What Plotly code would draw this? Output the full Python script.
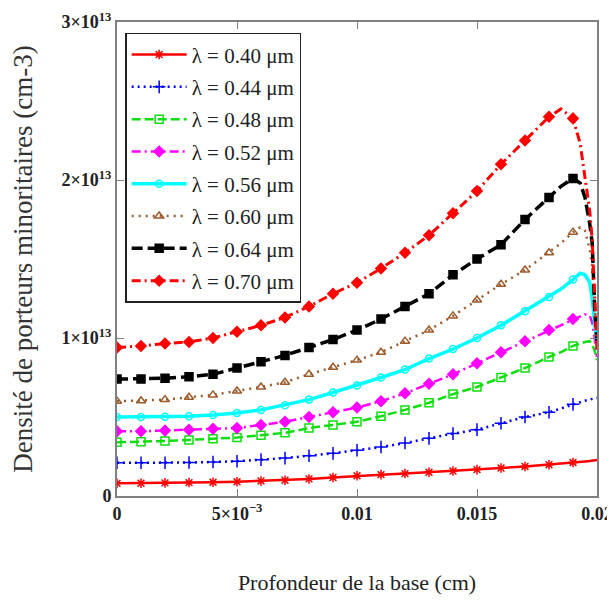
import plotly.graph_objects as go

# Depth in the base (cm)
depth = [0.000, 0.001, 0.002, 0.003, 0.004, 0.005, 0.006, 0.007, 0.008, 0.009,
         0.010, 0.011, 0.012, 0.013, 0.014, 0.015, 0.016, 0.017, 0.018, 0.0185,
         0.019, 0.0193, 0.0195, 0.0197, 0.0198, 0.0199, 0.020]

# Minority carrier density (units of 1e13 cm-3)
n_040 = [0.080, 0.081, 0.083, 0.085, 0.087, 0.090, 0.095, 0.100, 0.108, 0.117,
         0.128, 0.135, 0.142, 0.150, 0.158, 0.167, 0.177, 0.187, 0.198, 0.205,
         0.212, 0.216, 0.219, 0.222, 0.224, 0.226, 0.228]
n_044 = [0.21, 0.21, 0.21, 0.212, 0.215, 0.22, 0.23, 0.24, 0.255, 0.27,
         0.29, 0.31, 0.335, 0.365, 0.395, 0.42, 0.46, 0.50, 0.53, 0.555,
         0.58, 0.595, 0.603, 0.61, 0.615, 0.618, 0.62]
n_048 = [0.34, 0.343, 0.348, 0.355, 0.362, 0.37, 0.385, 0.40, 0.43, 0.45,
         0.47, 0.505, 0.545, 0.59, 0.645, 0.69, 0.75, 0.81, 0.88, 0.91,
         0.95, 0.965, 0.975, 0.98, 0.96, 0.92, 0.86]
n_052 = [0.41, 0.41, 0.415, 0.42, 0.425, 0.43, 0.45, 0.47, 0.50, 0.53,
         0.56, 0.60, 0.65, 0.71, 0.77, 0.84, 0.91, 0.98, 1.05, 1.08,
         1.12, 1.14, 1.15, 1.14, 1.10, 1.00, 0.88]
n_056 = [0.50, 0.50, 0.502, 0.505, 0.513, 0.525, 0.545, 0.575, 0.61, 0.655,
         0.70, 0.75, 0.80, 0.87, 0.93, 1.00, 1.08, 1.17, 1.26, 1.31,
         1.37, 1.41, 1.40, 1.35, 1.25, 1.12, 0.95]
n_060 = [0.60, 0.603, 0.61, 0.625, 0.64, 0.665, 0.69, 0.72, 0.77, 0.815,
         0.86, 0.91, 0.98, 1.05, 1.14, 1.24, 1.34, 1.43, 1.54, 1.60,
         1.67, 1.70, 1.68, 1.56, 1.45, 1.25, 1.00]
n_064 = [0.74, 0.74, 0.745, 0.755, 0.77, 0.81, 0.85, 0.89, 0.94, 0.99,
         1.05, 1.12, 1.20, 1.28, 1.40, 1.50, 1.59, 1.75, 1.89, 1.96,
         2.01, 1.98, 1.89, 1.72, 1.60, 1.20, 0.97]
n_070 = [0.94, 0.95, 0.965, 0.975, 1.00, 1.04, 1.08, 1.13, 1.20, 1.28,
         1.35, 1.44, 1.54, 1.65, 1.79, 1.93, 2.10, 2.25, 2.40, 2.45,
         2.39, 2.23, 2.02, 1.80, 1.62, 1.25, 0.92]

labels = ["λ = 0.40 μm", "λ = 0.44 μm", "λ = 0.48 μm", "λ = 0.52 μm",
          "λ = 0.56 μm", "λ = 0.60 μm", "λ = 0.64 μm", "λ = 0.70 μm"]
series = [n_040, n_044, n_048, n_052, n_056, n_060, n_064, n_070]

x_tickvals = [0, 0.005, 0.01, 0.015, 0.02]
x_ticktext = ["0", "5×10<sup>−3</sup>", "0.01", "0.015", "0.02"]
y_tickvals = [0, 1e13, 2e13, 3e13]
y_ticktext = ["0", "1×10<sup>13</sup>", "2×10<sup>13</sup>", "3×10<sup>13</sup>"]

scale = 1e13
# indices where markers are drawn (regular spacing)
marker_idx = list(range(0, 19)) + [20]

styles = [
    dict(color="#ff0000", dash="solid", width=2.5, symbol="asterisk-open", msize=8),
    dict(color="#0000ff", dash="2px,4px", width=2.5, symbol="cross-thin-open", msize=9),
    dict(color="#11dd11", dash="9px,4px", width=2.5, symbol="square-open", msize=8),
    dict(color="#ff00ff", dash="9px,4px,2px,4px", width=2.5, symbol="diamond", msize=8),
    dict(color="#00ffff", dash="solid", width=3.5, symbol="circle-open", msize=7),
    dict(color="#9c5a2a", dash="2px,5px", width=2.5, symbol="triangle-up-open", msize=8),
    dict(color="#000000", dash="11px,5px", width=3.5, symbol="square", msize=8),
    dict(color="#ff0000", dash="9px,4px,2px,4px", width=3, symbol="diamond", msize=8),
]

fig = go.Figure()
for lab, vals, st in zip(labels, series, styles):
    yv = [v * scale for v in vals]
    grp = lab
    fig.add_trace(go.Scatter(
        x=depth, y=yv, mode="lines", legendgroup=grp, showlegend=False,
        line=dict(color=st["color"], dash=st["dash"], width=st["width"]),
        hoverinfo="skip"))
    fig.add_trace(go.Scatter(
        x=[depth[i] for i in marker_idx], y=[yv[i] for i in marker_idx],
        mode="markers", legendgroup=grp, showlegend=False,
        marker=dict(color=st["color"], symbol=st["symbol"], size=st["msize"],
                    line=dict(color=st["color"], width=1.5))))
    fig.add_trace(go.Scatter(
        x=[None], y=[None], mode="lines+markers", legendgroup=grp, name=lab,
        line=dict(color=st["color"], dash=st["dash"], width=st["width"]),
        marker=dict(color=st["color"], symbol=st["symbol"], size=st["msize"],
                    line=dict(color=st["color"], width=1.5))))

axis_common = dict(
    showline=True, linecolor="#808080", linewidth=2, mirror="ticks",
    ticks="inside", ticklen=7, tickcolor="#808080", tickwidth=1.2,
    showgrid=False, zeroline=False, automargin=False,
    tickfont=dict(family="Liberation Serif", size=18, color="#222222"),
)

fig.update_xaxes(
    range=[0, 0.02], tickmode="array", tickvals=x_tickvals,
    ticktext=["<b>" + t + "</b>" for t in x_ticktext],
    title=dict(text="Profondeur de la base (cm)",
               font=dict(family="Liberation Serif", size=22, color="#222222"),
               standoff=52),
    **axis_common)
fig.update_yaxes(
    range=[0, 3e13], tickmode="array", tickvals=y_tickvals,
    ticktext=["<b>" + t + "</b>" for t in y_ticktext],
    title=dict(text="Densité de porteurs minoritaires (cm-3)",
               font=dict(family="Liberation Serif", size=27, color="#333333"),
               standoff=22),
    **axis_common)

fig.update_layout(
    width=607, height=602,
    margin=dict(l=109, r=18, t=14, b=114),
    paper_bgcolor="white", plot_bgcolor="white",
    showlegend=True,
    legend=dict(
        x=0.017, y=0.977, xanchor="left", yanchor="top",
        bgcolor="white", bordercolor="#222222", borderwidth=1.5,
        font=dict(family="Liberation Serif", size=21, color="#222222"),
        traceorder="grouped", tracegroupgap=2, itemwidth=55,
    ),
)

fig.write_html("out.html")
